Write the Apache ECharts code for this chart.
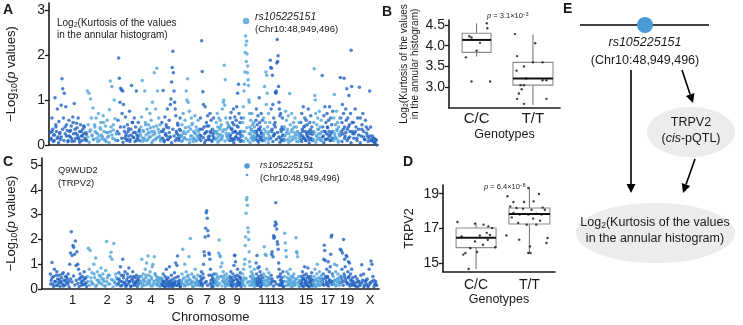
<!DOCTYPE html>
<html>
<head>
<meta charset="utf-8">
<script src="https://cdn.jsdelivr.net/npm/echarts@6/dist/echarts.min.js"></script>
<style>
  html, body { margin: 0; padding: 0; background: #fff; }
  #chart { width: 743px; height: 325px; }
</style>
</head>
<body>
<div id="chart"></div>
<script>
// chromosome borders on the genome axis and the labels under panel C
const chrBounds = [8, 45, 75, 98, 119, 139, 157, 173, 187, 200, 213, 221, 228, 242, 258, 271, 280, 291, 298, 311, 335];
const chrShade = [0, 1, 0, 1, 0, 1, 0, 1, 0, 1, 0, 1, 0, 1, 0, 1, 0, 1, 0, 0];
const chrLabels = ['1', '2', '3', '4', '5', '6', '7', '8', '9', '11', '13', '15', '17', '19', 'X'];
const chrLabelPos = [30.7, 65, 87, 109, 129, 148, 165, 180, 195, 223, 235, 264, 286, 305, 328];

// panel A: -log10 p, kurtosis GWAS, one array per chromosome (1..19, X)
const kurtP = [
  [.28,.15,.6,.35,.22,.1,1.05,.45,.3,.8,.18,.52,.25,.12,.88,1.47,1.25,.6,1.15,.4,.85,.2,.32,.1,.55,.3,.18,.42,.08,.62,.25,.92,.35,.15,.48,.22,.6,.12,.3,.45,.2,.1,.35,.25,.4,.15,.28,.1],
  [1.2,.45,1.15,.3,1.02,.6,.2,.82,.12,.45,.3,.6,.15,.25,.7,.1,.38,.5,.22,.18,.65,.3,.12,.42,.08,.55,.28,.2,.78,1.42,.4,1.3,.15,.33,1.0,.58,.1,.25],
  [.3,.55,1.93,1.48,.95,1.26,1.22,.7,1.2,.9,.4,.15,.62,.25,.1,.45,.3,.2,.75,.12,.35,1.32,.5,.18,.28,.6,.08,.4,1.2,.22,.15,.5,.3,.1],
  [.25,.4,.62,1.43,.15,.3,.1,1.2,.5,.22,.8,.35,.12,.45,.28,.7,.18,.55,.3,.95,.1,.4,1.6,.25,.8,.15,1.7,1.2,.35,.6,.2,.45,.12],
  [.3,.5,.15,1.21,.35,.1,.62,.25,.45,.2,.8,.12,.38,.55,.18,.9,1.02,1.4,1.72,2.08,1.6,1.2,.95,.8,.65,.3,.15,.48,.22,.1,.35,.6,.2],
  [.2,.45,.1,.7,.3,.15,.55,.25,1.2,1.0,1.47,.95,.4,.75,.12,.35,.6,.2,.48,.08,.3,.15,.65,.25,.4,.1,.2,.55,.3],
  [.15,.35,.6,.2,2.31,1.63,1.18,.9,.4,.25,.85,.1,.5,.3,.65,.18,.42,.12,.7,.28,.55,.1,.35,.2,.6,.15,.3],
  [.3,.12,.5,.25,.7,.4,.18,.6,.1,.35,.55,.22,.45,.15,.8,.3,.95,1.0,1.77,.88,1.45,.6,.35,.2,.5,.12,.4,.25],
  [.4,.2,.6,.15,.72,.35,.1,.5,.28,.8,.45,.12,.62,.3,.18,.55,.85,.25,1.15,.4,1.35,.7,.15,.5,.3,.22,.6,.1],
  [.2,.5,.3,.85,.6,1.2,1.35,1.62,2.05,2.42,2.22,1.85,2.3,2.02,1.6,1.75,1.45,1.32,1.0,.95,.7,.4,.25,.55,.15,.35,.7,.2,.45,.1,.3,.5,.2,.4,.15],
  [.3,.15,.55,.8,.25,.45,.1,.65,.35,.2,1.05,.5,.12,.4,.3,.7,.18,.25,.55,.1],
  [.2,.6,.35,1.3,.15,.5,1.62,.9,1.55,1.15,.4,.25,.7,.12,.3,.5],
  [1.88,1.72,.8,1.7,.35,1.55,.9,.2,.6,.45,.25,.5,1.17,1.15,1.2,1.82,2.34,1.85,1.98,1.3,.95,.8,.65,.15,.7,.3,.1,.4,.6,.22,.35,.12],
  [.4,.2,.75,.55,.3,.12,.65,.25,1.14,.45,.1,.7,.35,.18,.5,.28,.6,.15,.4,.22,.3,.08,.5,.2],
  [.25,.5,.12,.7,.35,.2,.85,.4,.15,.6,.3,.1,.55,.22,.45,.18,.8,.3,.12,.5,.25,.65,.15,.4,.3,.1],
  [.3,.5,1.69,1.1,1.0,.7,.2,.45,.12,.6,.35,.25,.75,.15,.4,.1,.55,.3],
  [1.54,.4,.2,.65,.3,.85,.12,.5,.25,.7,.4,.15,.55,.3,.85,.2,.6,.1,.45,.3,.75],
  [.3,.6,1.12,.2,.45,.15,.75,.35,.5,.1,.4,.25,.6],
  [1.5,.6,.3,.5,.9,.25,.7,1.48,.4,.2,.8,.55,1.25,.35,.6,.15,1.1,.45,.3,.7,2.1,1.3,.5,.25],
  [.5,.25,.8,.4,.15,.6,.35,1.28,.6,.2,.45,.7,.3,.12,.55,.4,.2,.35,.15,1.2,.4,.1,.2,.08,.15,.05,.12,0]
];
// panel A: the dense low band under the peaks
const kurtLow = [
  [.12,.3,.08,.22,.4,.15,.05,.28,.18,.35,.1,.25,.45,.07,.2,.32,.14,.5,.09,.26,.38,.16,.06,.3,.2,.42,.11,.24],
  [.18,.06,.33,.22,.12,.4,.27,.08,.2,.35,.14,.5,.1,.28,.17,.05,.3,.22,.45,.13,.25],
  [.1,.25,.4,.15,.06,.3,.2,.12,.36,.08,.22,.5,.16,.28,.1,.2,.34],
  [.2,.08,.32,.15,.45,.1,.26,.18,.38,.05,.22,.3,.12,.42,.17,.28,.09],
  [.14,.3,.07,.22,.4,.12,.28,.18,.05,.35,.2,.1,.26,.44,.15,.32],
  [.08,.25,.16,.38,.12,.3,.05,.2,.45,.14,.27,.1,.33,.18],
  [.22,.1,.35,.16,.05,.28,.42,.12,.2,.3,.08,.25,.15],
  [.15,.3,.06,.24,.4,.12,.2,.34,.09,.26,.18,.45],
  [.1,.22,.36,.14,.05,.3,.18,.42,.12,.26,.08,.2],
  [.2,.08,.3,.15,.38,.1,.25,.05,.32,.18,.12,.28],
  [.12,.3,.2,.06,.35,.16,.25,.1],
  [.25,.1,.3,.15,.05,.2],
  [.15,.3,.08,.22,.4,.12,.28,.18,.06,.35,.2,.1],
  [.1,.25,.35,.06,.18,.3,.12,.4,.22,.08,.28,.15],
  [.2,.08,.3,.15,.42,.1,.26,.18,.05,.34,.12,.24],
  [.12,.28,.06,.2,.35,.15,.25,.1],
  [.18,.05,.3,.12,.38,.22,.1,.26,.15],
  [.1,.25,.15,.32,.06,.2],
  [.22,.08,.35,.15,.28,.1,.4,.18,.05,.3],
  [.15,.3,.1,.22,.05,.35,.18,.12,.26,.08,.2,.1,.15,.05,.1]
];
const leadSnpPos = 204;
const leadSnpKurt = 2.75;

// panel C: -log10 p, TRPV2 (Q9WUD2) pQTL
const trpvP = [
  [.6,.35,1.07,.2,.5,.8,.3,.15,.7,.4,.25,.55,.1,.3,.45,.2,.65,.35,.15,.5,.25,.4,.6,.3,1.0,1.45,2.31,1.35,1.75,1.68,1.4,1.93,.95,1.5,1.0,.8,.4,.6,.25,.15,.5,.35,.7,.2,.45,.1],
  [.5,1.64,.8,1.55,.3,.65,.2,1.0,.45,1.25,.15,.7,.35,.55,.25,.85,.4,.6,.3,.12,.75,1.91,.45,.2,.55,1.3,1.48,1.2,.35,1.83,.25,.6,.15],
  [.4,.2,.65,.3,.9,.55,.15,1.2,.45,.25,.7,.1,.35,.6,.2,.85,.3,.5,.12,.4,.7,.25,.15,.45,.3,.55,.1,.35,.2,.5],
  [.3,.5,1.2,.2,.6,.35,.15,.8,.45,1.05,.25,1.33,.55,.3,.7,.12,.4,.9,1.0,.2,1.3,.6,.35,.5,.15,.25,.45,.3,.1,.4],
  [.2,.4,.15,.6,.3,.1,.5,.25,.8,.35,.12,.45,.2,.9,.3,.15,.55,.25,.1,.4,.2,.65,.3,1.05,.15,.95,1.33,.5,.2,.35,.1,.25],
  [.3,.6,1.6,.2,.45,1.0,.15,.7,.35,.25,.55,1.3,.4,2.04,.2,.6,.3,.1,.5,.25,.8,.15,.4,.3,.55,.2],
  [.3,.15,.5,.25,.7,.4,.2,.6,1.0,1.5,1.35,2.1,2.45,3.07,3.15,2.85,2.35,2.15,1.45,1.4,1.2,.8,.35,.55,.2,.45,.1,.3,.6,.25],
  [.4,.2,.6,.3,.5,.15,1.45,1.97,1.35,1.3,.9,.5,1.05,.3,.7,.45,.25,.55,.1,.35,.6,.2,.4,.15,.25],
  [.3,.5,.15,.7,.25,.45,.1,.6,.35,.95,1.36,1.35,1.1,.4,.2,.55,.8,.3,.15,.5,.25,.65,.4,.1,.3],
  [.3,.6,.2,.8,.45,1.0,1.2,1.75,2.1,3.05,3.6,3.69,3.38,2.47,2.3,2.0,1.5,1.1,.9,.5,.3,.7,.15,.4,.6,.25,.5,.35,.8,.2],
  [.4,.2,1.05,.6,1.35,.3,.85,.15,.5,.9,.25,.7,.4,.1,.55,.3,.2,.45],
  [.3,.6,1.7,.2,1.4,.5,1.35,.8,.35,.15,.45,.65,.25,.4],
  [.4,.2,.55,1.4,1.5,.3,1.3,2.15,2.05,2.1,2.55,2.7,3.48,2.62,2.42,1.9,1.8,1.6,1.05,.8,.5,.2,.6,.35,.15,.45,.25,.7,.3,.1],
  [.5,2.25,1.85,1.55,1.3,.7,.3,.15,.6,.4,.2,.8,.35,.5,.25,.1,.45,.2,.6,.3,.15,.4,2.07,1.5,1.45,1.3,.25,.5,.1,.35],
  [.3,.15,.5,.25,.7,.4,.1,.55,.9,.2,.35,.6,.15,.45,.85,.25,.1,.4,.3,.5,.2,.65,.12,.35],
  [.25,.5,.15,.8,.35,.1,.6,1.0,.3,.45,.2,.7,.15,.4,.3,.55],
  [.4,.2,.6,1.2,1.76,1.55,1.15,.5,.3,.8,.15,.45,1.1,.25,.7,.35,.9,1.4,2.1,2.17,.6,.3],
  [.5,.2,1.0,.35,.7,.15,.95,.4,.6,.25,.45,.3],
  [1.6,.5,1.55,.8,1.45,.3,2.0,.6,1.2,.9,.4,1.35,1.3,.25,.7,1.1,.5,1.05,.2,.6,.35,.8,.15,.45],
  [.3,.15,.5,.25,.4,.1,.3,.2,.55,.98,.35,.6,.15,.3,.2,.4,.1,.8,.25,1.13,1.0,.5,.35,.2,.3,.15]
];
// panel C: the dense low band
const trpvLow = [
  [.2,.45,.1,.3,.55,.15,.38,.25,.6,.12,.33,.48,.2,.08,.4,.28,.52,.16,.35,.22,.1,.45,.3,.18,.42,.25],
  [.3,.15,.45,.22,.6,.1,.35,.25,.5,.18,.4,.12,.3,.55,.2,.38,.08,.28,.46],
  [.2,.4,.12,.3,.55,.22,.15,.45,.28,.1,.35,.5,.18,.25,.42,.32],
  [.25,.1,.4,.3,.55,.18,.35,.22,.48,.12,.3,.6,.2,.38,.15,.45],
  [.15,.3,.22,.1,.4,.18,.28,.08,.35,.2,.12,.25,.45,.15,.3,.22,.1],
  [.22,.4,.12,.3,.5,.18,.35,.25,.1,.45,.2,.3,.15],
  [.2,.35,.12,.45,.25,.3,.15,.55,.22,.1,.38,.28],
  [.3,.15,.42,.22,.5,.12,.35,.25,.18,.45,.28],
  [.25,.4,.15,.32,.2,.5,.1,.38,.28,.18,.45,.22],
  [.2,.35,.12,.42,.25,.3,.15,.5,.22,.38,.1],
  [.3,.15,.42,.22,.35,.1,.28,.18],
  [.2,.35,.12,.28,.45,.18],
  [.25,.4,.12,.3,.2,.48,.15,.35,.22,.1],
  [.3,.15,.45,.22,.35,.1,.5,.28,.18,.4,.25,.12],
  [.2,.35,.12,.42,.25,.3,.15,.5,.1,.28,.38,.18],
  [.25,.12,.4,.2,.32,.15,.45,.28],
  [.3,.15,.42,.22,.5,.12,.35,.25,.18],
  [.2,.35,.12,.28,.4,.15],
  [.25,.4,.15,.5,.3,.2,.45,.12,.35,.22],
  [.2,.1,.3,.15,.25,.08,.35,.12,.2,.3,.1,.18]
];

// panels B and D: genotype groups
const genotypes = ['C/C', 'T/T'];
// box stats: min, Q1, median, Q3, max
const kurtBoxCC = [3.74, 3.84, 4.14, 4.30, 4.54];
const kurtBoxTT = [2.57, 3.05, 3.21, 3.60, 4.27];
const kurtCC = [3.72, 4.23, 4.20, 4.07, 3.88, 4.54, 4.42, 3.14, 3.14];
const kurtCCJit = [-0.19, -0.13, -0.09, 0.06, 0.0, 0.18, 0.19, -0.09, 0.24];
const kurtTT = [4.28, 4.06, 3.75, 3.60, 3.60, 3.50, 3.40, 3.21, 3.17, 3.17, 3.05, 3.05, 2.95, 2.85, 2.72, 2.72, 2.60];
const kurtTTJit = [-0.32, 0.04, -0.28, 0, 0.17, -0.16, -0.29, -0.12, 0.17, 0.24, -0.22, -0.16, -0.2, -0.25, -0.28, 0.24, -0.16];

const trpvBoxCC = [14.67, 15.9, 16.47, 17.03, 17.35];
const trpvBoxTT = [15.59, 17.26, 17.83, 18.18, 19.36];
const trpvCC = [17.37, 17.28, 17.22, 17.12, 17.03, 16.55, 16.6, 16.75, 16.63, 16.35, 16.26, 16.07, 15.92, 15.87, 15.59, 15.5, 15.65, 14.67];
const trpvCCJit = [-0.35, -0.02, 0.14, 0.23, 0.3, -0.27, 0.07, 0.2, 0.26, 0.22, -0.02, 0.13, 0.36, -0.11, -0.2, -0.24, 0.02, -0.14];
const trpvTT = [19.33, 18.98, 18.85, 18.52, 18.52, 18.56, 18.27, 18.18, 18.14, 18.08, 18.2, 18.08, 17.89, 17.8, 17.8, 17.85, 17.8, 17.64, 17.57, 17.45, 17.32, 17.22, 17.22, 16.6, 16.45, 16.17, 16.36, 15.97, 15.59, 15.59];
const trpvTTJit = [-0.02, 0.18, -0.41, -0.3, -0.1, 0.08, -0.36, -0.24, -0.12, 0.04, 0.25, 0.29, -0.3, -0.18, -0.02, 0.13, 0.23, -0.33, 0.07, 0.2, -0.21, -0.05, 0.13, -0.43, 0.34, 0.32, -0.19, 0.01, -0.02, 0.02];

const DARK = '#1f62c0';
const LIGHT = '#50a3da';
const FONT = '"Liberation Sans", Arial, sans-serif';
const INK = '#1a1a1a';

// spread each chromosome's values over its span, in order
function manhattan(lists, shift) {
  const out = [[], []];
  lists.forEach((vals) => {
    vals.forEach((arr, c) => {
      const a = chrBounds[c], b = chrBounds[c + 1];
      arr.forEach((v, i) => {
        out[chrShade[c]].push([a + (i + shift) / arr.length * (b - a), v]);
      });
    });
    shift = 0.5 - shift + 0.5;
  });
  return out;
}

function jittered(vals, jit, cat) {
  return vals.map((v, i) => [cat + jit[i], v]);
}

function boxRender(halfW) {
  return function (params, api) {
    const x = api.value(0);
    const lo = api.coord([x, api.value(1)]);
    const q1 = api.coord([x, api.value(2)]);
    const md = api.coord([x, api.value(3)]);
    const q3 = api.coord([x, api.value(4)]);
    const hi = api.coord([x, api.value(5)]);
    const w = halfW[params.dataIndex];
    const grey = { stroke: '#6e6e6e', lineWidth: 1 };
    return {
      type: 'group',
      children: [
        { type: 'line', shape: { x1: lo[0], y1: lo[1], x2: q1[0], y2: q1[1] }, style: grey },
        { type: 'line', shape: { x1: q3[0], y1: q3[1], x2: hi[0], y2: hi[1] }, style: grey },
        { type: 'rect', shape: { x: q3[0] - w, y: q3[1], width: 2 * w, height: q1[1] - q3[1] },
          style: { fill: '#fff', stroke: '#8c8c8c', lineWidth: 1.1 } },
        { type: 'line', shape: { x1: md[0] - w, y1: md[1], x2: md[0] + w, y2: md[1] },
          style: { stroke: '#111', lineWidth: 2 } }
      ]
    };
  };
}

const axisLine = { show: true, onZero: false, lineStyle: { color: INK, width: 1.6 } };
const labelStyle = { color: INK, fontFamily: FONT };

function yAxisFor(grid, min, max, ticks, fmt, name, nameGap, nameStyle) {
  return {
    gridIndex: grid, type: 'value', min: min, max: max,
    axisLine: axisLine,
    axisTick: { show: true, length: 4, customValues: ticks, lineStyle: { color: INK, width: 1.3 } },
    axisLabel: Object.assign({ customValues: ticks, formatter: fmt, fontSize: 14, margin: 4 }, labelStyle),
    splitLine: { show: false },
    name: name, nameLocation: 'middle', nameGap: nameGap,
    nameTextStyle: Object.assign({ color: INK, fontFamily: FONT }, nameStyle)
  };
}

function nearestLabel(v) {
  let best = 0;
  chrLabelPos.forEach((p, i) => { if (Math.abs(p - v) < Math.abs(chrLabelPos[best] - v)) best = i; });
  return chrLabels[best];
}

const pName = {
  fontSize: 13, lineHeight: 16,
  rich: {
    s: { fontSize: 8.5, lineHeight: 8, verticalAlign: 'bottom', fontFamily: FONT, color: INK },
    i: { fontSize: 13, fontStyle: 'italic', fontFamily: FONT, color: INK }
  }
};

const kurtA = manhattan([kurtP, kurtLow], 0.5);
const trpvC = manhattan([trpvP, trpvLow], 0.5);

function arrow(x1, y1, x2, y2) {
  const len = Math.hypot(x2 - x1, y2 - y1);
  const ux = (x2 - x1) / len, uy = (y2 - y1) / len;
  const hl = 9, hw = 4.5;
  const bx = x2 - ux * hl, by = y2 - uy * hl;
  return [
    { type: 'line', shape: { x1: x1, y1: y1, x2: bx, y2: by }, style: { stroke: '#000', lineWidth: 1.6 } },
    { type: 'polygon', shape: { points: [[x2, y2], [bx - uy * hw, by + ux * hw], [bx + uy * hw, by - ux * hw]] },
      style: { fill: '#000' } }
  ];
}

function txt(x, y, text, size, extra) {
  return {
    type: 'text', x: x, y: y, z: 10,
    style: Object.assign({ text: text, fontSize: size, fontFamily: FONT, fill: INK,
      align: 'left', verticalAlign: 'middle' }, extra || {})
  };
}

// rich pieces: s = subscript, u = superscript, i = italic
const richFor = (size, small) => ({
  s: { fontSize: small, lineHeight: small, verticalAlign: 'bottom', fontFamily: FONT, fill: INK },
  u: { fontSize: small, lineHeight: small, verticalAlign: 'top', fontFamily: FONT, fill: INK },
  i: { fontSize: size, fontStyle: 'italic', fontFamily: FONT, fill: INK }
});

const chart = echarts.init(document.getElementById('chart'), null, { renderer: 'canvas' });

const option = {
  animation: false,
  backgroundColor: '#fff',
  grid: [
    { left: 49, top: 3, width: 329, height: 142 },
    { left: 42, top: 158, width: 337, height: 132 },
    { left: 449, top: 20, width: 111, height: 88 },
    { left: 443, top: 185, width: 112, height: 87 }
  ],
  xAxis: [
    { gridIndex: 0, type: 'value', min: 7, max: 336, axisLine: axisLine,
      axisTick: { show: false }, axisLabel: { show: false }, splitLine: { show: false } },
    { gridIndex: 1, type: 'value', min: 0, max: 337, axisLine: axisLine,
      axisTick: { show: false }, splitLine: { show: false },
      axisLabel: Object.assign({ customValues: chrLabelPos, formatter: nearestLabel, fontSize: 13, margin: 5 }, labelStyle),
      name: 'Chromosome', nameLocation: 'middle', nameGap: 22,
      nameTextStyle: { fontSize: 13, color: INK, fontFamily: FONT } },
    { gridIndex: 2, type: 'value', min: -0.49, max: 1.48, axisLine: axisLine,
      axisTick: { show: false }, splitLine: { show: false },
      axisLabel: Object.assign({ customValues: [0, 1], formatter: (v) => genotypes[Math.round(v)], fontSize: 15, margin: 3 }, labelStyle),
      name: 'Genotypes', nameLocation: 'middle', nameGap: 20,
      nameTextStyle: { fontSize: 12.5, color: INK, fontFamily: FONT } },
    { gridIndex: 3, type: 'value', min: -0.62, max: 1.48, axisLine: axisLine,
      axisTick: { show: false }, splitLine: { show: false },
      axisLabel: Object.assign({ customValues: [0, 1], formatter: (v) => genotypes[Math.round(v)], fontSize: 14, margin: 6 }, labelStyle),
      name: 'Genotypes', nameLocation: 'middle', nameGap: 20,
      nameTextStyle: { fontSize: 12.5, color: INK, fontFamily: FONT } }
  ],
  yAxis: [
    yAxisFor(0, 0, 3.15, [0, 1, 2, 3], (v) => String(v), '\u2212Log{s|10}({i|p} values)', 30, pName),
    yAxisFor(1, 0, 5.28, [0, 1, 2, 3, 4, 5], (v) => String(v), '\u2212Log{s|10}({i|p} values)', 23, pName),
    yAxisFor(2, 2.5, 4.62, [3, 3.5, 4, 4.5], (v) => v.toFixed(1),
      'Log{s|2}(Kurtosis of the values\nin the annular histogram)', 28,
      { fontSize: 10, lineHeight: 11, rich: { s: { fontSize: 7, lineHeight: 7, verticalAlign: 'bottom', fontFamily: FONT, color: INK } } }),
    yAxisFor(3, 14.5, 19.5, [15, 17, 19], (v) => String(v), 'TRPV2', 27, { fontSize: 12.5 })
  ],
  series: [
    { type: 'scatter', xAxisIndex: 0, yAxisIndex: 0, data: kurtA[0], symbolSize: 3.5,
      itemStyle: { color: DARK }, silent: true },
    { type: 'scatter', xAxisIndex: 0, yAxisIndex: 0, data: kurtA[1], symbolSize: 3.5,
      itemStyle: { color: LIGHT }, silent: true },
    { type: 'scatter', xAxisIndex: 0, yAxisIndex: 0, data: [[leadSnpPos, leadSnpKurt]], symbolSize: 6.5,
      itemStyle: { color: '#4d9dd6' }, silent: true, z: 3 },
    { type: 'scatter', xAxisIndex: 1, yAxisIndex: 1, data: trpvC[0], symbolSize: 3.5,
      itemStyle: { color: DARK }, silent: true },
    { type: 'scatter', xAxisIndex: 1, yAxisIndex: 1, data: trpvC[1], symbolSize: 3.5,
      itemStyle: { color: LIGHT }, silent: true },
    { type: 'custom', xAxisIndex: 2, yAxisIndex: 2, renderItem: boxRender([14.5, 20]),
      encode: { x: 0, y: [1, 2, 3, 4, 5] },
      data: [[0].concat(kurtBoxCC), [1].concat(kurtBoxTT)], silent: true },
    { type: 'scatter', xAxisIndex: 2, yAxisIndex: 2, symbolSize: 2.4, z: 5, silent: true,
      itemStyle: { color: '#111' },
      data: jittered(kurtCC, kurtCCJit, 0).concat(jittered(kurtTT, kurtTTJit, 1)) },
    { type: 'custom', xAxisIndex: 3, yAxisIndex: 3, renderItem: boxRender([20, 20.5]),
      encode: { x: 0, y: [1, 2, 3, 4, 5] },
      data: [[0].concat(trpvBoxCC), [1].concat(trpvBoxTT)], silent: true },
    { type: 'scatter', xAxisIndex: 3, yAxisIndex: 3, symbolSize: 2.4, z: 5, silent: true,
      itemStyle: { color: '#111' },
      data: jittered(trpvCC, trpvCCJit, 0).concat(jittered(trpvTT, trpvTTJit, 1)) }
  ],
  graphic: [
    // panel letters
    txt(3, 10, 'A', 14, { fontWeight: 'bold' }),
    txt(382, 12, 'B', 14, { fontWeight: 'bold' }),
    txt(3, 162, 'C', 14, { fontWeight: 'bold' }),
    txt(403, 162, 'D', 14, { fontWeight: 'bold' }),
    txt(563, 9, 'E', 14, { fontWeight: 'bold' }),
    // panel A notes
    txt(57, 29, 'Log{s|2}(Kurtosis of the values\nin the annular histogram)', 10,
      { lineHeight: 12, rich: richFor(10, 7) }),
    txt(255, 17, 'rs105225151', 10.5, { fontStyle: 'italic' }),
    txt(255, 29, '(Chr10:48,949,496)', 9.6),
    // panel C notes
    txt(58, 176.5, 'Q9WUD2\n(TRPV2)', 9.3, { lineHeight: 13 }),
    { type: 'circle', shape: { cx: 247, cy: 166, r: 2.8 }, style: { fill: '#4d9dd6' } },
    { type: 'circle', shape: { cx: 247, cy: 175, r: 1.3 }, style: { fill: '#4d9dd6' } },
    txt(260, 165, 'rs105225151', 9.2, { fontStyle: 'italic' }),
    txt(260, 178, '(Chr10:48,949,496)', 9.2),
    // p values
    txt(487, 16, '{i|p} = 3.1\u00d710{u|\u22123}', 7.5, { rich: richFor(7.5, 5) }),
    txt(484, 187, '{i|p} = 6.4\u00d710{u|\u22128}', 7.5, { rich: richFor(7.5, 5) }),
    // panel E diagram
    { type: 'line', shape: { x1: 580, y1: 25, x2: 709, y2: 25 }, style: { stroke: '#000', lineWidth: 1.6 } },
    { type: 'circle', shape: { cx: 645, cy: 25, r: 8 }, style: { fill: '#4a9ad4' } },
    txt(645, 43, 'rs105225151', 12.5, { align: 'center', fontStyle: 'italic' }),
    txt(645, 61, '(Chr10:48,949,496)', 12.5, { align: 'center' }),
    { type: 'ellipse', shape: { cx: 691, cy: 132, rx: 44, ry: 25 }, style: { fill: '#ececec' } },
    txt(691, 123, 'TRPV2', 12.5, { align: 'center' }),
    txt(691, 139, '({i|cis}-pQTL)', 12.5, { align: 'center', rich: richFor(12.5, 8) }),
    { type: 'ellipse', shape: { cx: 655.5, cy: 233, rx: 79.5, ry: 30 }, style: { fill: '#ececec' } },
    txt(655, 230.5, 'Log{s|2}(Kurtosis of the values\nin the annular histogram)', 12.5,
      { align: 'center', lineHeight: 16, rich: richFor(12.5, 8.5) }),
    ...arrow(631, 70, 631, 193),
    ...arrow(682, 70, 693, 103),
    ...arrow(695, 159, 683, 193)
  ]
};

chart.setOption(option);
</script>
</body>
</html>
